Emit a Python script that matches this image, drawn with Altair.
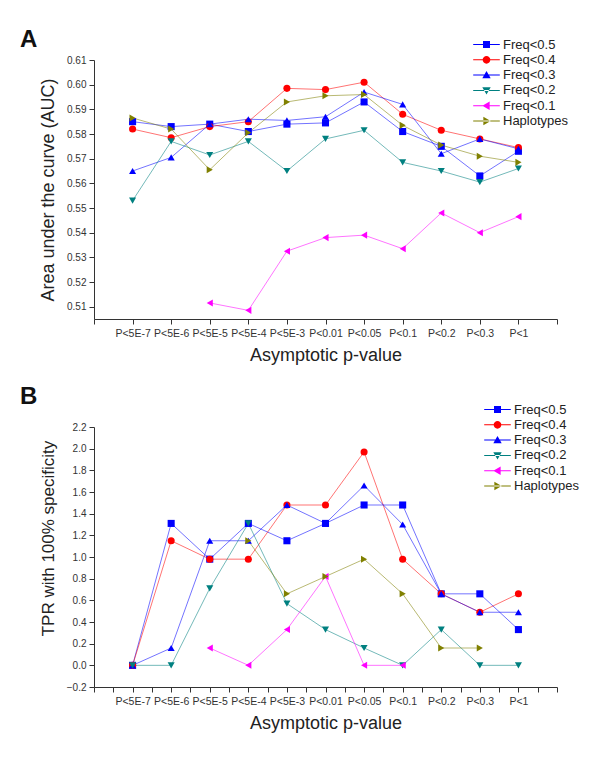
import json
import altair as alt
import pandas as pd

categories = ["P<5E-7", "P<5E-6", "P<5E-5", "P<5E-4", "P<5E-3", "P<0.01",
              "P<0.05", "P<0.1", "P<0.2", "P<0.3", "P<1"]
series_names = ["Freq<0.5", "Freq<0.4", "Freq<0.3", "Freq<0.2", "Freq<0.1", "Haplotypes"]
colors = ["#0000FF", "#FF0000", "#0000FF", "#008080", "#FF00FF", "#808000"]
markers = ["square", "circle", "triangle-up", "triangle-down", "triangle-left", "triangle-right"]

# Panel A: area under the curve (None = no point)
auc_f05 = [0.585, 0.583, 0.584, 0.581, 0.584, 0.5845, 0.593, 0.581, 0.575, 0.563, 0.573]
auc_f04 = [0.582, 0.5785, 0.583, 0.585, 0.5985, 0.598, 0.601, 0.588, 0.5815, 0.578, 0.5745]
auc_f03 = [0.565, 0.5705, 0.584, 0.586, 0.5855, 0.587, 0.597, 0.592, 0.572, 0.578, 0.574]
auc_f02 = [0.553, 0.577, 0.5715, 0.577, 0.565, 0.578, 0.5815, 0.5685, 0.565, 0.5605, 0.566]
auc_f01 = [None, None, 0.5115, 0.5085, 0.5325, 0.538, 0.539, 0.5335, 0.548, 0.540, 0.5465]
auc_hap = [0.5865, 0.582, 0.5655, 0.5805, 0.593, 0.5955, 0.596, 0.5835, 0.5755, 0.571, 0.5685]

# Panel B: TPR with 100% specificity
tpr_f05 = [0.0, 1.31, 0.98, 1.31, 1.15, 1.31, 1.48, 1.48, 0.66, 0.66, 0.33]
tpr_f04 = [0.0, 1.15, 0.98, 0.98, 1.48, 1.48, 1.97, 0.98, 0.66, 0.49, 0.66]
tpr_f03 = [0.0, 0.16, 1.15, 1.15, 1.48, 1.31, 1.66, 1.30, 0.66, 0.49, 0.49]
tpr_f02 = [0.0, 0.0, 0.71, 1.31, 0.57, 0.33, 0.16, 0.0, 0.33, 0.0, 0.0]
tpr_f01 = [None, None, 0.16, 0.0, 0.33, 0.82, 0.0, 0.0, None, None, None]
tpr_hap = [None, None, None, 1.15, 0.66, 0.82, 0.98, 0.66, 0.16, 0.16, None]

auc_ticks = [0.51, 0.52, 0.53, 0.54, 0.55, 0.56, 0.57, 0.58, 0.59, 0.60, 0.61]
tpr_ticks = [-0.2, 0.0, 0.2, 0.4, 0.6, 0.8, 1.0, 1.2, 1.4, 1.6, 1.8, 2.0, 2.2]

# legend symbols: a thin bar (the line) with the marker in the middle, all filled
_bar = "M-3.8,-0.14H3.8V0.14H-3.8Z"
legend_paths = [
    _bar + "M-1,-1H1V1H-1Z",
    _bar + "M1.1,0A1.1,1.1,0,1,1,-1.1,0A1.1,1.1,0,1,1,1.1,0Z",
    _bar + "M0,-1.2L1.2,0.9H-1.2Z",
    _bar + "M0,1.2L1.2,-0.9H-1.2Z",
    _bar + "M-1.2,0L0.9,-1.2V1.2Z",
    _bar + "M1.2,0L-0.9,-1.2V1.2Z",
]

FONT = "Liberation Sans"


def long_table(series_values):
    rows = []
    for name, col, marker, vals in zip(series_names, colors, markers, series_values):
        for i, v in enumerate(vals):
            if v is not None:
                rows.append({"series": name, "hex": col, "marker": marker, "idx": i, "value": v})
    return pd.DataFrame(rows)


df_a = long_table([auc_f05, auc_f04, auc_f03, auc_f02, auc_f01, auc_hap])
df_b = long_table([tpr_f05, tpr_f04, tpr_f03, tpr_f02, tpr_f01, tpr_hap])

cat_js = json.dumps(categories)
label_expr = ("(datum.value >= 0 && datum.value <= 10 && datum.value % 1 == 0) ? "
              + cat_js + "[datum.value] : ''")

color_scale = alt.Scale(domain=series_names, range=colors)


def panel(df, letter, title_dy, y_title, y_domain, y_ticks, y_fmt, x_ticks,
          leg_x, leg_y, height, y_title_size, y_title_y=None):
    x = alt.X("idx:Q",
              scale=alt.Scale(domain=[-1, 11], nice=False, zero=False),
              axis=alt.Axis(values=x_ticks, labelExpr=label_expr, title="Asymptotic p-value",
                            labelOverlap=False, labelFlush=False, labelFontSize=10.5,
                            labelPadding=4, tickSize=5, titleFontSize=18, titlePadding=8))
    yaxis_kw = dict(values=y_ticks, format=y_fmt, title=y_title, labelFontSize=10,
                    labelPadding=3, tickSize=5, titleFontSize=y_title_size,
                    titlePadding=9, labelOverlap=False, labelFlush=False)
    if y_title_y is not None:
        yaxis_kw["titleY"] = y_title_y
    y = alt.Y("value:Q", scale=alt.Scale(domain=y_domain, nice=False, zero=False),
              axis=alt.Axis(**yaxis_kw))
    base = alt.Chart(df)
    lines = base.mark_line(strokeWidth=1, strokeOpacity=0.55).encode(
        x=x, y=y, color=alt.Color("hex:N", scale=None), detail="series:N")
    points = base.mark_point(filled=True, opacity=1, size=50, strokeWidth=0).encode(
        x=x, y=y, color=alt.Color("hex:N", scale=None),
        shape=alt.Shape("marker:N", scale=None))
    leg = alt.Legend(orient="none", legendX=leg_x, legendY=leg_y, title=None,
                     labelFont=FONT, labelFontSize=13, labelColor="#222",
                     symbolSize=49, symbolStrokeWidth=0, symbolOpacity=1, rowPadding=1.3,
                     labelOffset=10, padding=0, labelLimit=200)
    legend_layer = base.transform_filter("false").mark_point(
        filled=True, opacity=1, fillOpacity=1, strokeWidth=0).encode(
        x=x, y=y,
        color=alt.Color("series:N", scale=color_scale, legend=leg),
        shape=alt.Shape("series:N", scale=alt.Scale(domain=series_names, range=legend_paths),
                        legend=leg))
    return alt.layer(lines, points, legend_layer).properties(
        width=463, height=height,
        title=alt.TitleParams(letter, anchor="start", frame="group", fontSize=24,
                              fontWeight="bold", font=FONT, color="#111",
                              dx=-74, dy=title_dy, offset=0))


chart_a = panel(df_a, "A", 14, "Area under the curve (AUC)", [0.505, 0.61], auc_ticks, ".2f",
                list(range(-1, 12)), 386, -22, 259, 18)
chart_b = panel(df_b, "B", 6, "TPR with 100% specificity", [-0.2, 2.2], tpr_ticks, ".1f",
                [v / 2 for v in range(-2, 23)], 397, -24, 260, 17, y_title_y=111)

chart = alt.vconcat(chart_a, chart_b, spacing=20).resolve_scale(
    color="independent", shape="independent"
).resolve_legend(
    color="independent", shape="independent"
).properties(
    padding={"left": 12, "top": 20, "right": 5, "bottom": 5}
).configure_view(stroke=None).configure_axis(
    domainColor="#333", tickColor="#333", labelColor="#333", titleColor="#222",
    labelFont=FONT, titleFont=FONT, titleFontWeight="normal", grid=False
)

chart.save("out.html", embed_options={"renderer": "svg", "actions": False})
